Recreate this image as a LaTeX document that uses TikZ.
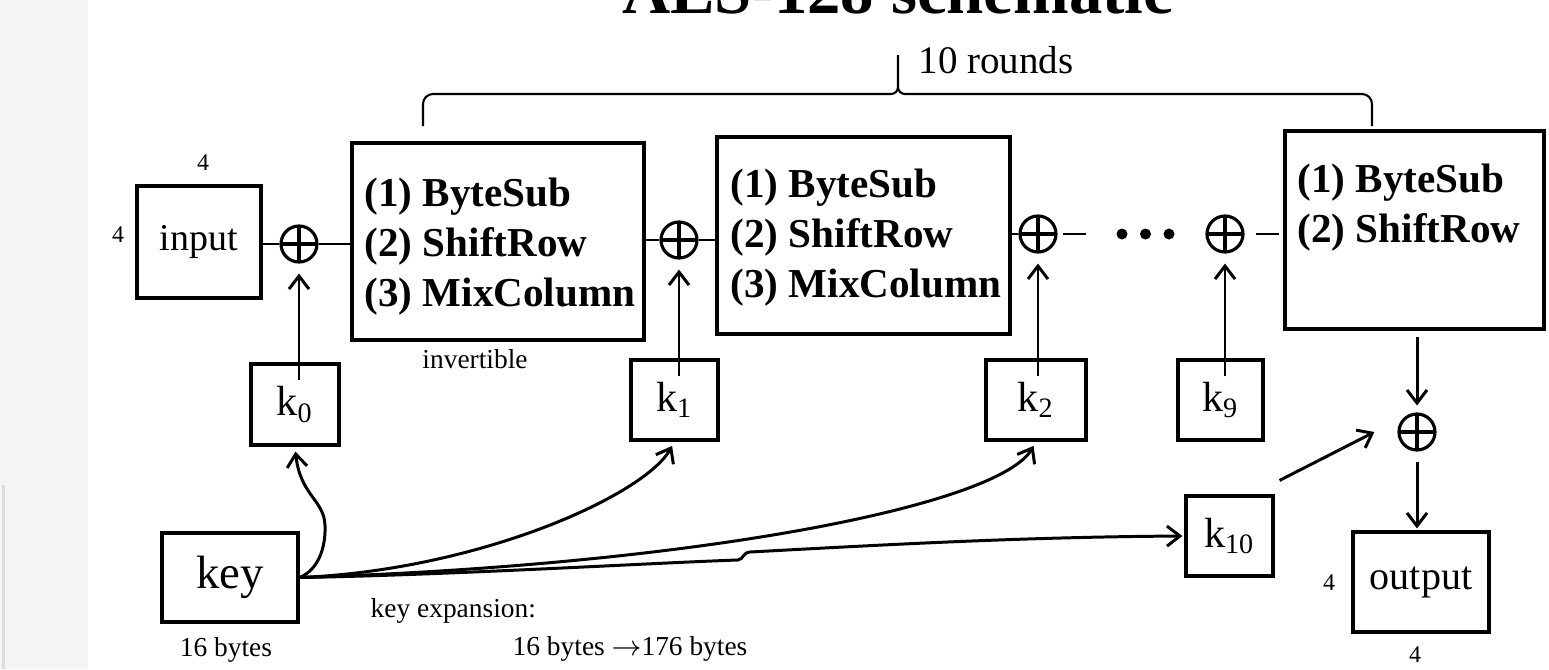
\documentclass[tikz,border=0pt]{standalone}
\usepackage{fontspec}
\setmainfont{Liberation Serif}
\usepackage{xcolor}
\definecolor{slidegray}{RGB}{244,244,244}
\definecolor{slideedge}{RGB}{221,221,221}
\usetikzlibrary{arrows.meta}

\begin{document}
\begin{tikzpicture}[
  box/.style={draw, line width=0.9pt, inner sep=0pt},
  rbox/.style={box, minimum height=1.97cm},
  ops/.style={font=\fontsize{11.7}{14.2}\selectfont\bfseries, align=left, anchor=west, inner sep=0pt},
  kbox/.style={box, minimum height=0.8cm, font=\fontsize{12}{14}\selectfont},
  xorop/.style={circle, draw, line width=0.9pt, minimum size=0.36cm, inner sep=0pt,
    path picture={\draw[line width=0.9pt] (path picture bounding box.north) -- (path picture bounding box.south)
      (path picture bounding box.west) -- (path picture bounding box.east);}},
  dim/.style={font=\fontsize{6.8}{8}\selectfont, inner sep=0pt},
  note/.style={font=\fontsize{7.8}{9}\selectfont, inner sep=0pt},
  wire/.style={line width=0.8pt},
  feed/.style={line width=0.85pt, -{Straight Barb[length=0.13cm, width=0.2cm]}},
]

% --- Page ---
\useasboundingbox (0,0) rectangle (15.49,-6.69);
\fill[white] (0,0) rectangle (15.49,-6.69);
\fill[slidegray] (0,0) rectangle (0.88,-6.69);
\fill[slideedge] (0.02,-4.85) rectangle (0.05,-6.69);

% Title (cut by the top edge)
\node[font=\fontsize{19}{22}\selectfont\bfseries, anchor=base, inner sep=0pt] (title) at (8.975,-0.13) {AES-128 schematic};

% --- Rounds brace ---
\draw[line width=0.6pt] (4.23,-1.26) -- (4.23,-1.04) to[out=90,in=180] (4.33,-0.94) -- (8.91,-0.94)
  to[out=0,in=-90] (8.98,-0.87) -- (8.98,-0.55)
  (8.98,-0.87) to[out=-90,in=180] (9.05,-0.94) -- (13.62,-0.94) to[out=0,in=90] (13.72,-1.04) -- (13.72,-1.26);
\node[font=\fontsize{11.1}{13}\selectfont, anchor=base west, inner sep=0pt] (rounds) at (9.18,-0.73) {10 rounds};

% --- Data path ---
\node[box, minimum width=1.24cm, minimum height=1.12cm, font=\fontsize{10.8}{13}\selectfont] (input) at (1.99,-2.42) {input};
\node[dim] (inw) at (2.03,-1.63) {4};
\node[dim] (inh) at (1.18,-2.35) {4};

\node[xorop] (x0) at (2.99,-2.44) {};
\node[rbox, minimum width=2.92cm] (r1) at (4.98,-2.415) {};
\node[ops] (r1ops) at (3.64,-2.47) {(1) ByteSub\\(2) ShiftRow\\(3) MixColumn};
\node[note, anchor=base] (inv) at (4.75,-3.68) {invertible};

\node[xorop] (x1) at (6.79,-2.40) {};
\node[rbox, minimum width=2.93cm] (r2) at (8.635,-2.355) {};
\node[ops] (r2ops) at (7.30,-2.375) {(1) ByteSub\\(2) ShiftRow\\(3) MixColumn};

\node[xorop] (x2) at (10.38,-2.34) {};
\node[xorop] (x9) at (12.25,-2.34) {};
\node[rbox, minimum width=2.59cm, minimum height=1.98cm] (r10) at (14.145,-2.30) {};
\node[ops] (r10ops) at (12.97,-2.075) {(1) ByteSub\\(2) ShiftRow};

\node[xorop] (x10) at (14.17,-4.32) {};
\node[box, minimum width=1.36cm, minimum height=1.0cm, font=\fontsize{11.4}{13}\selectfont] (output) at (14.21,-5.82) {output};
\node[dim] (outh) at (13.29,-5.83) {4};
\node[dim] (outw) at (14.15,-6.55) {4};

% wires between the stages
\draw[wire] (input.east |- x0) -- (x0);
\draw[wire] (x0) -- (x0 -| r1.west);
\draw[wire] (r1.east |- x1) -- (x1);
\draw[wire] (x1) -- (x1 -| r2.west);
\draw[wire] (r2.east |- x2) -- (x2);
\draw[wire] ([xshift=0.05cm]x2.east) -- ++(0.23,0);
\foreach \dx in {11.22,11.455,11.69}
  \fill (\dx,-2.34) circle (0.055);
\draw[wire] ([xshift=0.11cm]x9.east) -- ++(0.23,0);

% --- Round keys ---
\node[kbox, minimum width=0.88cm, minimum height=0.81cm] (k0) at (2.95,-4.045) {k\textsubscript{0}};
\node[kbox, minimum width=0.87cm] (k1) at (6.745,-4.00) {k\textsubscript{1}};
\node[kbox, minimum width=1.00cm] (k2) at (10.36,-4.00) {k\textsubscript{2}};
\node[kbox, minimum width=0.85cm] (k9) at (12.205,-4.00) {k\textsubscript{9}};
\node[kbox, minimum width=0.87cm] (k10) at (12.295,-5.36) {k\textsubscript{10}};

\foreach \k/\x in {k0/x0,k1/x1,k2/x2,k9/x9}
  \draw[feed, shorten >=0.1cm] ([yshift=-0.18cm]\k.north -| \x) -- (\x);

% last round
\draw[feed, shorten >=0.07cm] ([yshift=-0.06cm]r10.south -| x10) -- (x10);
\draw[feed, shorten <=0.1cm, shorten >=0.02cm] (x10) -- (x10 |- output.north);
\draw[feed] ([shift={(0.05,0.14)}]k10.north east) -- ([xshift=-0.23cm]x10.west);

% --- Key expansion ---
\node[box, minimum width=1.36cm, minimum height=0.89cm, font=\fontsize{13.3}{16}\selectfont] (key) at (2.30,-5.775) {key};
\node[note, anchor=base] (keylen) at (2.26,-6.56) {16 bytes};
\node[note, anchor=base west] (exp) at (3.70,-6.17) {key expansion:};
\node[note, anchor=base west] (explen) at (5.12,-6.55) {16 bytes $\rightarrow$176 bytes};

\draw[feed, shorten >=0.05cm] (key.east) .. controls (3.18,-5.70) and (3.26,-5.48) .. (3.25,-5.25)
  .. controls (3.24,-5.00) and (3.00,-4.95) .. (k0.south);
\draw[feed, shorten >=0.05cm] (key.east) .. controls (4.80,-5.70) and (6.45,-4.95) .. (k1.south);
\draw[feed, shorten >=0.05cm] (key.east) .. controls (7.00,-5.65) and (10.00,-5.05) .. (k2.south);
\draw[feed, shorten >=0.02cm] (key.east) .. controls (4.50,-5.75) and (6.50,-5.63) .. (7.38,-5.60)
  .. controls (7.44,-5.59) and (7.42,-5.53) .. (7.50,-5.52)
  .. controls (8.80,-5.45) and (10.20,-5.37) .. (k10.west);

\end{tikzpicture}
\end{document}
